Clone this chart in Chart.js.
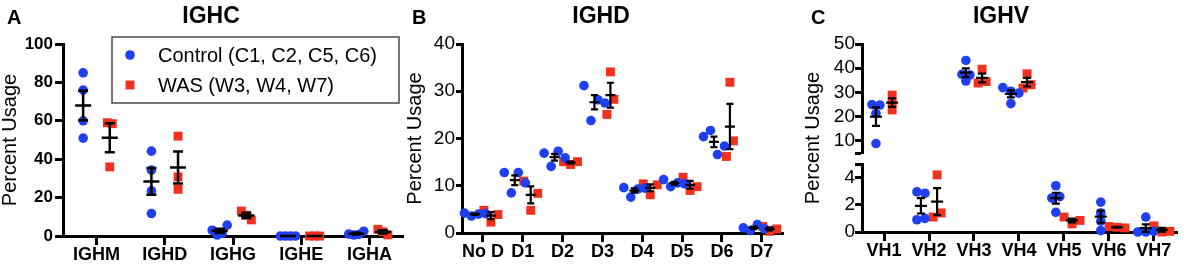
<!DOCTYPE html>
<html>
<head>
<meta charset="utf-8">
<title>IGHC / IGHD / IGHV usage</title>
<script src="https://cdn.jsdelivr.net/npm/chart.js@4.4.1/dist/chart.umd.min.js"></script>
<style>
  html, body { margin: 0; padding: 0; background: #fff; overflow: hidden; }
  body { position: relative; width: 1184px; height: 268px; font-family: "Liberation Sans", Arial, sans-serif; color: #000; }
  .panel { position: absolute; top: 0; height: 268px; }
  .letter { position: absolute; top: 7px; font-size: 20px; line-height: 20px; font-weight: bold; }
  .title { position: absolute; top: 4px; font-size: 23px; line-height: 23px; font-weight: bold; transform: translateX(-50%); white-space: nowrap; }
</style>
</head>
<body>
<div class="panel" style="left:0;width:410px"><canvas id="chart-ighc"></canvas></div>
<div class="panel" style="left:400px;width:390px"><canvas id="chart-ighd"></canvas></div>
<div class="panel" style="left:795px;width:389px"><canvas id="chart-ighv"></canvas></div>
<div class="letter" style="left:7px">A</div>
<div class="title" style="left:211px">IGHC</div>
<div class="letter" style="left:412px">B</div>
<div class="title" style="left:601px">IGHD</div>
<div class="letter" style="left:811px">C</div>
<div class="title" style="left:1001px">IGHV</div>
<script>
const controlLabel = "Control (C1, C2, C5, C6)";
const wasLabel = "WAS (W3, W4, W7)";

// A - IGHC
const ighcCategories = ["IGHM", "IGHD", "IGHG", "IGHE", "IGHA"];
const ighcControl = [[85, 76, 60, 51], [44.2, 34.3, 23.5, 11.7], [3, 0.5, 1.5, 5.7], [0, 0, 0, 0], [1.0, 0.5, 0.8, 2.5]];
const ighcWas = [[59, 58.5, 36], [52, 24.3, 30.8], [13, 10.8, 8.4], [0, 0, 0], [3.5, 2.2, 0.6]];
const ighcTicks = [0, 20, 40, 60, 80, 100];

// B - IGHD
const ighdCategories = ["No D", "D1", "D2", "D3", "D4", "D5", "D6", "D7"];
const ighdControl = [[4.2, 3.6, 4.0, 4.1], [12.8, 8.5, 12.8, 10.6], [16.9, 14.1, 17.3, 15.9], [31.2, 23.8, 28.2, 27.5],
  [9.6, 7.6, 9.3, 9.5], [11.3, 9.8, 10.6, 10.4], [20.4, 21.7, 16.6, 18.4], [1.1, 0.5, 1.8, 0.9]];
const ighdWas = [[4.8, 2.3, 3.9], [11, 4.8, 8.4], [15.1, 14.5, 15.1], [34.1, 25.1, 28.3],
  [10.4, 8.1, 10.2], [11.8, 9.0, 9.8], [31.9, 16.2, 19.5], [1.4, 0.35, 0.85]];
const ighdTicks = [0, 10, 20, 30, 40];

// C - IGHV (broken axis)
const ighvCategories = ["VH1", "VH2", "VH3", "VH4", "VH5", "VH6", "VH7"];
const ighvControl = [[25, 21.3, 8.9, 24.8], [2.95, 2.85, 0.9, 1.0], [43.2, 37.5, 34.7, 37.2], [32, 30.5, 25.4, 29.7],
  [3.4, 1.45, 2.5, 2.6], [2.2, 0.1, 0.8, 1.4], [1.1, 0, 0, 0.05]];
const ighvWas = [[28.9, 22.8, 25.8], [4.2, 1.1, 1.4], [39.6, 33.9, 34.5], [37.7, 31.8, 33.2],
  [1.1, 0.6, 0.85], [0.4, 0.35, 0.3], [0.45, 0, 0.05]];
const ighvUpperTicks = [10, 20, 30, 40, 50];
const ighvLowerTicks = [0, 2, 4];
const ighvBreak = 5;

const BLUE = "#1f3ff2";
const RED = "#f2301e";

Chart.defaults.font.family = '"Liberation Sans", Arial, sans-serif';
Chart.defaults.color = "#000";

function groupByCenter(data) {
  const groups = new Map();
  data.forEach((p) => {
    if (!groups.has(p.cx)) groups.set(p.cx, []);
    groups.get(p.cx).push(p);
  });
  return groups;
}

// spread points that sit close together, like a dot plot
const swarmPlugin = {
  id: "swarm",
  afterLayout(chart, args, opts) {
    const xs = chart.scales.x;
    const unit = xs.getPixelForValue(1) - xs.getPixelForValue(0);
    chart.data.datasets.forEach((ds) => {
      const ys = chart.scales[ds.yAxisID];
      groupByCenter(ds.data).forEach((pts) => {
        const py = pts.map((p) => ys.getPixelForValue(p.y));
        const order = pts.map((p, i) => i).sort((a, b) => py[a] - py[b]);
        const clusters = [];
        let cur = [order[0]];
        for (let k = 1; k < order.length; k++) {
          if (py[order[k]] - py[order[k - 1]] < opts.gap) cur.push(order[k]);
          else { clusters.push(cur); cur = [order[k]]; }
        }
        clusters.push(cur);
        clusters.forEach((c) => {
          c.sort((a, b) => a - b);
          c.forEach((idx, j) => {
            pts[idx].x = pts[idx].cx + ((j - (c.length - 1) / 2) * opts.step) / unit;
          });
        });
      });
    });
  },
};

const meanSemPlugin = {
  id: "meanSem",
  afterDatasetsDraw(chart, args, opts) {
    const { ctx } = chart;
    const xs = chart.scales.x;
    ctx.save();
    ctx.strokeStyle = "#000";
    ctx.lineWidth = opts.lineWidth;
    chart.data.datasets.forEach((ds) => {
      const ys = chart.scales[ds.yAxisID];
      groupByCenter(ds.data).forEach((pts, cx) => {
        const vals = pts.map((p) => p.y);
        const n = vals.length;
        const mean = vals.reduce((a, b) => a + b, 0) / n;
        const sd = Math.sqrt(vals.reduce((a, v) => a + (v - mean) ** 2, 0) / (n - 1));
        const sem = sd / Math.sqrt(n);
        const px = xs.getPixelForValue(cx);
        const yMean = ys.getPixelForValue(mean);
        const yTop = ys.getPixelForValue(mean + sem);
        const yBot = ys.getPixelForValue(mean - sem);
        ctx.beginPath();
        ctx.moveTo(px - opts.meanHalf, yMean); ctx.lineTo(px + opts.meanHalf, yMean);
        ctx.moveTo(px, yTop); ctx.lineTo(px, yBot);
        ctx.moveTo(px - opts.capHalf, yTop); ctx.lineTo(px + opts.capHalf, yTop);
        ctx.moveTo(px - opts.capHalf, yBot); ctx.lineTo(px + opts.capHalf, yBot);
        ctx.stroke();
      });
    });
    ctx.restore();
  },
};

const boxLegendPlugin = {
  id: "boxLegend",
  afterDraw(chart, args, o) {
    if (!o.show) return;
    const { ctx } = chart;
    const seen = new Set();
    const items = chart.data.datasets.filter((ds) => !seen.has(ds.label) && seen.add(ds.label));
    ctx.save();
    ctx.strokeStyle = o.borderColor;
    ctx.lineWidth = o.borderWidth;
    ctx.strokeRect(o.left, o.top, o.width, o.height);
    ctx.font = o.textFont;
    ctx.textBaseline = "middle";
    items.forEach((ds, i) => {
      const y = o.top + o.rowTop + i * o.rowGap;
      const x = o.left + o.markerX;
      ctx.fillStyle = ds.backgroundColor;
      if (ds.pointStyle === "rect") {
        const h = ds.pointRadius * Math.SQRT1_2;
        ctx.fillRect(x - h, y - h, 2 * h, 2 * h);
      } else {
        ctx.beginPath();
        ctx.arc(x, y, ds.pointRadius, 0, Math.PI * 2);
        ctx.fill();
      }
      ctx.fillStyle = "#000";
      ctx.fillText(ds.label, o.left + o.textX, y + 1);
    });
    ctx.restore();
  },
};

function buildDatasets(control, was, offset, breakAt) {
  const upper = (i) => Math.min(...control[i], ...was[i]) >= breakAt;
  const parts = breakAt === undefined ? [["y", () => true]] : [["yHi", upper], ["yLo", (i) => !upper(i)]];
  const series = [
    { label: controlLabel, values: control, color: BLUE, style: "circle", radius: 4.8, side: -1 },
    { label: wasLabel, values: was, color: RED, style: "rect", radius: 6.3, side: 1 },
  ];
  const datasets = [];
  series.forEach((s) => parts.forEach(([axis, keep]) => {
    const data = [];
    s.values.forEach((vals, i) => {
      if (!keep(i)) return;
      const cx = i + s.side * offset;
      vals.forEach((v) => data.push({ x: cx, y: v, cx }));
    });
    datasets.push({
      label: s.label, data, xAxisID: "x", yAxisID: axis,
      backgroundColor: s.color, borderColor: s.color, borderWidth: 0,
      pointStyle: s.style, pointRadius: s.radius, pointHoverRadius: s.radius, clip: false,
    });
  }));
  return datasets;
}

function tickedAxis(font, tickLength, padding) {
  return {
    border: { display: true, width: 3, color: "#000" },
    grid: { display: true, drawOnChartArea: false, drawTicks: true, tickLength, tickWidth: 3, tickColor: "#000", color: "#000" },
    ticks: { color: "#000", font, padding, autoSkip: false, maxRotation: 0, minRotation: 0 },
  };
}

function xAxis(categories, min, max, height) {
  const a = tickedAxis({ size: 18, weight: "bold", lineHeight: 1 }, 9, 1);
  a.ticks.callback = (v) => categories[v];
  return Object.assign(a, {
    type: "linear", position: "bottom", min, max,
    afterBuildTicks: (s) => { s.ticks = categories.map((c, i) => ({ value: i })); },
    afterFit: (s) => { s.height = height; },
  });
}

function yTitle(pad) {
  return { display: true, text: "Percent Usage", color: "#000", font: { size: 20, lineHeight: 1 }, padding: { top: pad, bottom: 0 } };
}

function yAxis(ticks, cfg) {
  const a = tickedAxis(cfg.font, cfg.tickLength, cfg.padding);
  return Object.assign(a, {
    type: "linear", position: "left", min: ticks[0], max: ticks[ticks.length - 1],
    afterBuildTicks: (s) => { s.ticks = ticks.map((v) => ({ value: v })); },
    afterFit: (s) => { s.width = cfg.width; },
    title: yTitle(cfg.titlePad),
  });
}

function makeChart(id, datasets, scales, pluginOpts, padding) {
  return new Chart(document.getElementById(id), {
    type: "scatter",
    data: { datasets },
    options: {
      responsive: true, maintainAspectRatio: false, animation: false, devicePixelRatio: 1,
      parsing: false, events: [],
      layout: { padding },
      scales,
      plugins: Object.assign({ legend: { display: false }, tooltip: { enabled: false } }, pluginOpts),
    },
    plugins: [swarmPlugin, meanSemPlugin, boxLegendPlugin],
  });
}

// Panel A
makeChart(
  "chart-ighc",
  buildDatasets(ighcControl, ighcWas, 0.195),
  {
    x: xAxis(ighcCategories, -0.49, 4.5, 32),
    y: yAxis(ighcTicks, { font: { size: 17, weight: "bold" }, tickLength: 8, padding: 2, width: 63, titlePad: 0 }),
  },
  {
    swarm: { gap: 9, step: 5 },
    meanSem: { lineWidth: 2.5, meanHalf: 8, capHalf: 5 },
    boxLegend: {
      show: true, left: 112, top: 37, width: 287, height: 66, rowTop: 18, rowGap: 30, markerX: 18, textX: 46,
      textFont: '20px "Liberation Sans", Arial, sans-serif', borderColor: "#4a4a4a", borderWidth: 1.5,
    },
  },
  { top: 44, right: 2, bottom: 0, left: 0 }
);

// Panel B
makeChart(
  "chart-ighd",
  buildDatasets(ighdControl, ighdWas, 0.2),
  {
    x: xAxis(ighdCategories, -0.525, 7.55, 35),
    y: yAxis(ighdTicks, { font: { size: 19 }, tickLength: 6, padding: 1, width: 62, titlePad: 5.6 }),
  },
  {
    swarm: { gap: 18, step: 7 },
    meanSem: { lineWidth: 2.2, meanHalf: 5, capHalf: 3.5 },
    boxLegend: { show: false },
  },
  { top: 44, right: 5, bottom: 0, left: 0 }
);

// Panel C: two stacked y axes make the broken axis
const hiTicks = [ighvBreak, ...ighvUpperTicks];
const loTicks = [...ighvLowerTicks, ighvBreak];
const brokenLabel = (v) => (v === ighvBreak ? "" : v);
const yLo = yAxis(loTicks, { font: { size: 19 }, tickLength: 7, padding: 0, width: 43, titlePad: 0 });
yLo.title = { display: false };
yLo.ticks.callback = brokenLabel;
Object.assign(yLo, { stack: "ighv", stackWeight: 68 });
const yHi = yAxis(hiTicks, { font: { size: 19 }, tickLength: 7, padding: 0, width: 43, titlePad: 0 });
yHi.title = { display: false };
yHi.ticks.callback = brokenLabel;
Object.assign(yHi, { stack: "ighv", stackWeight: 109 });
const yGap = {
  type: "linear", position: "left", stack: "ighv", stackWeight: 11,
  grid: { display: false }, border: { display: false }, ticks: { display: false },
  afterFit: (s) => { s.width = 43; },
};
const yName = {
  type: "linear", position: "left",
  grid: { display: false }, border: { display: false }, ticks: { display: false },
  title: yTitle(8.9),
  afterFit: (s) => { s.width = 24; },
};

makeChart(
  "chart-ighv",
  buildDatasets(ighvControl, ighvWas, 0.18, ighvBreak),
  {
    x: xAxis(ighvCategories, -0.49, 6.53, 36),
    yLo, yGap, yHi, yName,
  },
  {
    swarm: { gap: 6, step: 8 },
    meanSem: { lineWidth: 2.2, meanHalf: 6, capHalf: 4 },
    boxLegend: { show: false },
  },
  { top: 44, right: 6, bottom: 0, left: 0 }
);
</script>
</body>
</html>
